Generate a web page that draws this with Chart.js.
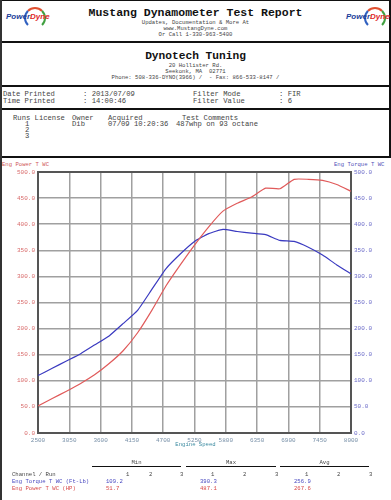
<!DOCTYPE html>
<html><head><meta charset="utf-8">
<script src="https://cdn.jsdelivr.net/npm/chart.js@4"></script>
<style>
body{margin:0;width:391px;height:500px;background:#fff;position:relative;overflow:hidden;font-family:"Liberation Mono","DejaVu Sans Mono",monospace;color:#222;}
.t{position:absolute;white-space:pre;line-height:1;}
.hl{position:absolute;background:#111;}
.logo{position:absolute;font-family:"Liberation Sans",Arial,sans-serif;font-weight:bold;font-style:italic;font-size:8px;white-space:pre;}
.arc{position:absolute;width:18px;height:18px;border-radius:50%;border:2px solid transparent;border-top-color:#e05030;border-right-color:#40a040;border-left-color:#3060c0;}
</style></head><body>

<!-- borders -->
<div class="hl" style="left:0;top:0;width:391px;height:1px;"></div>
<div class="hl" style="left:0;top:41px;width:391px;height:2px;"></div>
<div class="hl" style="left:0;top:85px;width:391px;height:2px;"></div>
<div class="hl" style="left:0;top:108px;width:391px;height:2px;"></div>
<div class="hl" style="left:0;top:156px;width:391px;height:2px;"></div>
<div class="hl" style="left:0;top:0;width:2px;height:500px;background:#333;"></div>
<div class="hl" style="left:389px;top:0;width:2px;height:158px;"></div>

<!-- logos -->
<div class="arc" style="left:24px;top:7px;"></div>
<div class="logo" style="left:6px;top:12px;"><span style="color:#1a3d9a">Power</span><span style="color:#e02828">Dyne</span></div>
<div class="arc" style="left:364px;top:7px;"></div>
<div class="logo" style="left:346px;top:12px;"><span style="color:#1a3d9a">Power</span><span style="color:#e02828">Dyne</span></div>

<div class="t" style="left:0;width:391px;text-align:center;top:7px;font-size:11.5px;font-weight:bold;color:#111;">Mustang Dynamometer Test Report</div>
<div class="t" style="left:0;width:391px;text-align:center;top:20px;font-size:5.6px;color:#444;">Updates, Documentation &amp; More At</div>
<div class="t" style="left:0;width:391px;text-align:center;top:26px;font-size:5.6px;color:#444;">www.MustangDyne.com</div>
<div class="t" style="left:0;width:391px;text-align:center;top:32px;font-size:5.6px;color:#444;">Or Call 1-330-963-5400</div>

<div class="t" style="left:0;width:391px;text-align:center;top:51px;font-size:11.2px;font-weight:bold;color:#111;">Dynotech Tuning</div>
<div class="t" style="left:0;width:391px;text-align:center;top:63px;font-size:5.6px;color:#444;">20 Hollister Rd.</div>
<div class="t" style="left:0;width:391px;text-align:center;top:69px;font-size:5.6px;color:#444;">Seekonk, MA  02771</div>
<div class="t" style="left:0;width:391px;text-align:center;top:75px;font-size:5.6px;color:#444;">Phone: 508-336-DYNO(3966) /  - Fax: 866-533-8147 /</div>

<div class="t" style="left:3px;top:91px;font-size:7.2px;color:#444;">Date Printed</div>
<div class="t" style="left:3px;top:98px;font-size:7.2px;color:#444;">Time Printed</div>
<div class="t" style="left:83px;top:91px;font-size:7.2px;color:#444;">: 2013/07/09</div>
<div class="t" style="left:83px;top:98px;font-size:7.2px;color:#444;">: 14:00:46</div>
<div class="t" style="left:193px;top:91px;font-size:7.2px;color:#444;">Filter Mode</div>
<div class="t" style="left:193px;top:98px;font-size:7.2px;color:#444;">Filter Value</div>
<div class="t" style="left:279px;top:91px;font-size:7.2px;color:#444;">: FIR</div>
<div class="t" style="left:279px;top:98px;font-size:7.2px;color:#444;">: 6</div>

<div class="t" style="left:13px;top:115px;font-size:7.2px;color:#444;">Runs License</div>
<div class="t" style="left:72px;top:115px;font-size:7.2px;color:#444;">Owner</div>
<div class="t" style="left:108px;top:115px;font-size:7.2px;color:#444;">Acquired</div>
<div class="t" style="left:182px;top:115px;font-size:7.2px;color:#444;">Test Comments</div>
<div class="t" style="left:25px;top:121px;font-size:7.2px;color:#444;">1</div>
<div class="t" style="left:25px;top:127px;font-size:7.2px;color:#444;">2</div>
<div class="t" style="left:25px;top:133px;font-size:7.2px;color:#444;">3</div>
<div class="t" style="left:72px;top:121px;font-size:7.2px;color:#444;">Dib</div>
<div class="t" style="left:108px;top:121px;font-size:7.2px;color:#444;">07/09 10:20:36</div>
<div class="t" style="left:176px;top:121px;font-size:7.2px;color:#444;">487whp on 93 octane</div>

<!-- chart -->
<div class="t" style="left:2px;top:162px;font-size:5.6px;color:#d05858;">Eng Power T WC</div>
<div class="t" style="left:334px;top:162px;font-size:5.6px;color:#5050b8;">Eng Torque T WC</div>
<canvas id="c" width="391" height="290" style="position:absolute;left:0;top:160px;"></canvas>
<div class="t" style="left:0;width:391px;text-align:center;top:442px;font-size:5.6px;color:#3a8aa0;">Engine Speed</div>

<!-- footer table -->
<div class="t" style="left:92px;width:89px;text-align:center;top:460px;font-size:5.6px;color:#444;">Min</div>
<div class="t" style="left:186px;width:90px;text-align:center;top:460px;font-size:5.6px;color:#444;">Max</div>
<div class="t" style="left:280px;width:89px;text-align:center;top:460px;font-size:5.6px;color:#444;">Avg</div>
<div class="hl" style="left:92px;top:466px;width:89px;height:1px;"></div>
<div class="hl" style="left:186px;top:466px;width:90px;height:1px;"></div>
<div class="hl" style="left:280px;top:466px;width:89px;height:1px;"></div>
<div class="t" style="left:12px;top:472px;font-size:5.6px;color:#444;">Channel / Run</div>
<div class="t" style="left:126px;top:472px;font-size:5.6px;color:#444;">1</div>
<div class="t" style="left:149px;top:472px;font-size:5.6px;color:#444;">2</div>
<div class="t" style="left:180px;top:472px;font-size:5.6px;color:#444;">3</div>
<div class="t" style="left:211px;top:472px;font-size:5.6px;color:#444;">1</div>
<div class="t" style="left:243px;top:472px;font-size:5.6px;color:#444;">2</div>
<div class="t" style="left:275px;top:472px;font-size:5.6px;color:#444;">3</div>
<div class="t" style="left:305px;top:472px;font-size:5.6px;color:#444;">1</div>
<div class="t" style="left:337px;top:472px;font-size:5.6px;color:#444;">2</div>
<div class="t" style="left:369px;top:472px;font-size:5.6px;color:#444;">3</div>
<div class="t" style="left:12px;top:479px;font-size:5.6px;color:#4848c0;">Eng Torque T WC (Ft-Lb)</div>
<div class="t" style="left:12px;top:486px;font-size:5.6px;color:#d84848;">Eng Power T WC (HP)</div>
<div class="t" style="left:106px;top:479px;font-size:5.6px;color:#4848c0;">109.2</div>
<div class="t" style="left:200px;top:479px;font-size:5.6px;color:#4848c0;">390.3</div>
<div class="t" style="left:294px;top:479px;font-size:5.6px;color:#4848c0;">256.9</div>
<div class="t" style="left:106px;top:486px;font-size:5.6px;color:#d84848;">51.7</div>
<div class="t" style="left:200px;top:486px;font-size:5.6px;color:#d84848;">487.1</div>
<div class="t" style="left:294px;top:486px;font-size:5.6px;color:#d84848;">267.6</div>

<script>
const rpm = [2500,2750,3000,3250,3500,3750,4000,4250,4500,4750,5000,5250,5500,5750,6000,6250,6500,6750,7000,7250,7500,7750,8000];
const torque = [110,124,138,152,169,186,210,235,275,315,343,367,382,390,386,383,380,369,367,356,341,322,305];
const power = [52,66,80,95,112,133,158,192,235,282,322,360,395,425,440,452,469,468,486,486,484,476,463];
const rpmTicks = {min:2500, max:8000, step:550};
const yTicks = {min:0, max:500, step:50};

const mk = (ys) => rpm.map((x,i)=>({x:x,y:ys[i]}));
const tickFont = {family:'"Liberation Mono", monospace', size:6};
const gridOpt = {color:'#a0a0a0', lineWidth:1.5, drawTicks:false};
const borderOpt = {color:'#555', width:2};

new Chart(document.getElementById('c'), {
  type:'line',
  data:{datasets:[
    {label:'Eng Power T WC', data:mk(power), borderColor:'#e05a5a', borderWidth:1.2, pointRadius:0, yAxisID:'y', tension:0.15},
    {label:'Eng Torque T WC', data:mk(torque), borderColor:'#3a3ac0', borderWidth:1.2, pointRadius:0, yAxisID:'y2', tension:0.15}
  ]},
  options:{
    responsive:false, animation:false, devicePixelRatio:1,
    layout:{padding:{top:12,left:0,right:0,bottom:0}},
    plugins:{legend:{display:false}, tooltip:{enabled:false}},
    scales:{
      x:{type:'linear', min:rpmTicks.min, max:rpmTicks.max,
         ticks:{stepSize:rpmTicks.step, color:'#7890a8', font:tickFont, padding:4, maxRotation:0, autoSkip:false, callback:v=>String(v)},
         grid:gridOpt, border:borderOpt,
         afterFit:s=>{s.height=17;}},
      y:{position:'left', min:yTicks.min, max:yTicks.max,
         ticks:{stepSize:yTicks.step, color:'#d86a6a', font:tickFont, padding:3, callback:v=>v.toFixed(1)},
         grid:gridOpt, border:borderOpt,
         afterFit:s=>{s.width=38;}},
      y2:{position:'right', min:yTicks.min, max:yTicks.max,
         ticks:{stepSize:yTicks.step, color:'#6a6ac8', font:tickFont, padding:3, callback:v=>v.toFixed(1)},
         grid:{drawOnChartArea:false, drawTicks:false}, border:borderOpt,
         afterFit:s=>{s.width=40;}}
    }
  },
  plugins:[{id:'topBorder', afterDraw(ch){const a=ch.chartArea,c=ch.ctx;c.save();c.strokeStyle='#555';c.lineWidth=2;c.beginPath();c.moveTo(a.left,a.top);c.lineTo(a.right,a.top);c.stroke();c.restore();}}]
});
</script>
</body></html>
